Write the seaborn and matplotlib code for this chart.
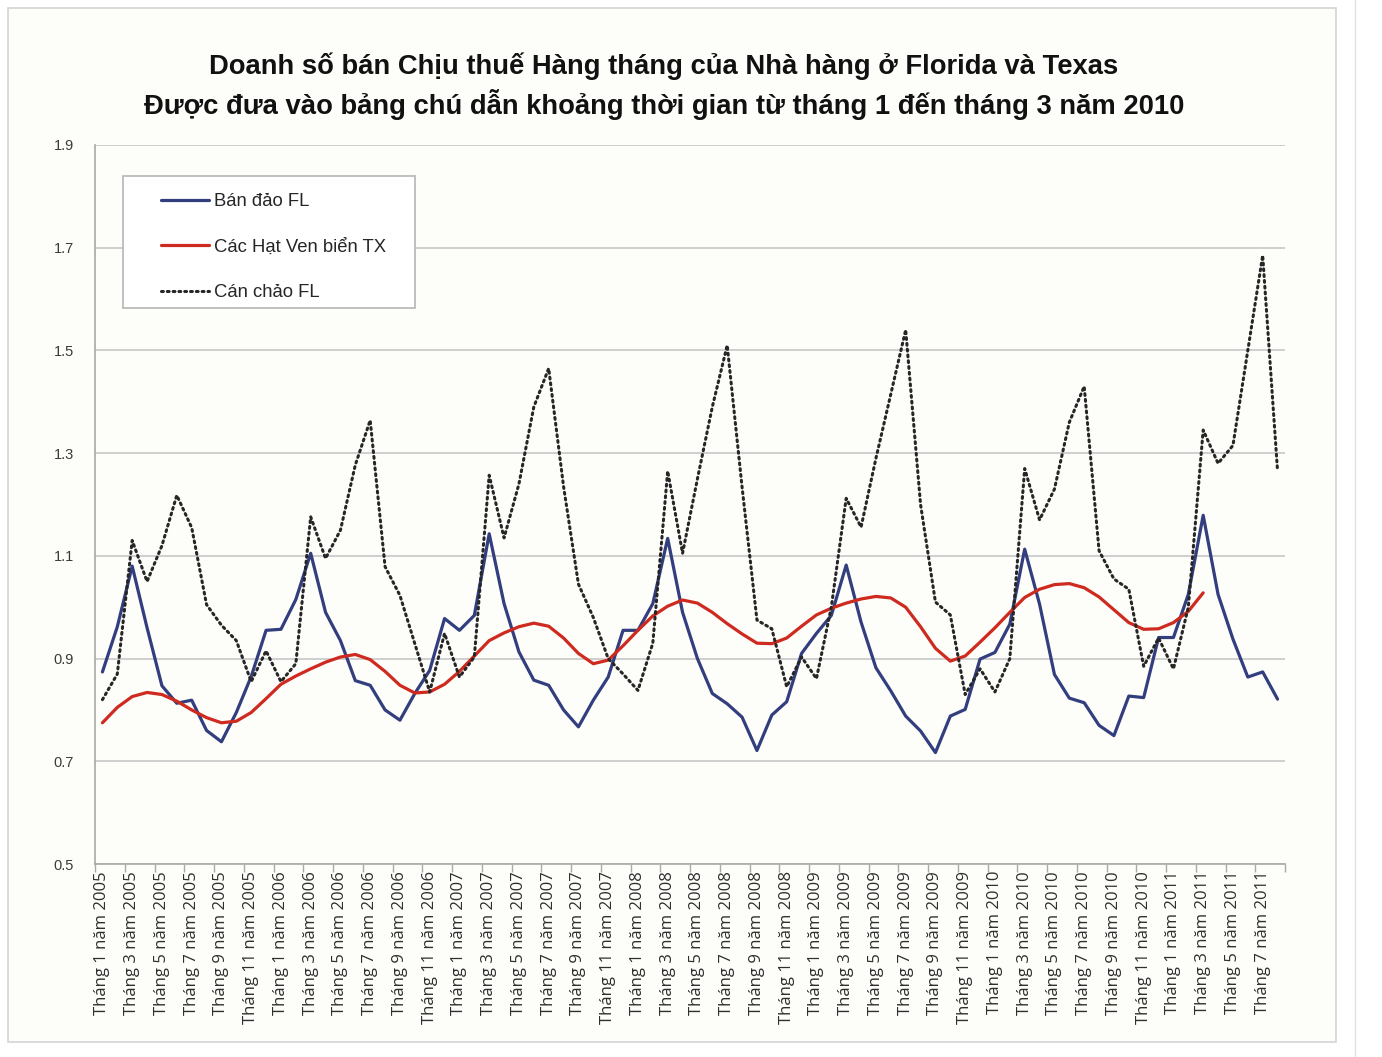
import numpy as np
import pandas as pd
import seaborn as sns
import matplotlib.pyplot as plt
from matplotlib.patches import Rectangle
from matplotlib.lines import Line2D

# month categories, Jan 2005 .. Aug 2011
months = [f"Tháng {m} năm {y}" for y in range(2005, 2012) for m in range(1, 13)][:80]

ban_dao_fl = [0.874, 0.962, 1.08, 0.96, 0.847, 0.813, 0.819, 0.76, 0.738, 0.795,
              0.865, 0.955, 0.957, 1.015, 1.105, 0.99, 0.935, 0.857, 0.848, 0.80,
              0.78, 0.832, 0.877, 0.978, 0.955, 0.984, 1.143, 1.007, 0.913, 0.858,
              0.848, 0.80, 0.767, 0.819, 0.864, 0.955, 0.955, 1.007, 1.134, 0.99,
              0.90, 0.832, 0.812, 0.786, 0.721, 0.79, 0.816, 0.91, 0.949, 0.984,
              1.082, 0.971, 0.882, 0.837, 0.788, 0.759, 0.717, 0.788, 0.801, 0.899,
              0.912, 0.967, 1.113, 1.006, 0.869, 0.823, 0.814, 0.77, 0.75, 0.827,
              0.824, 0.941, 0.941, 1.025, 1.179, 1.025, 0.938, 0.864, 0.874, 0.821]

ven_bien_tx = [0.775, 0.805, 0.826, 0.834, 0.83, 0.817, 0.80, 0.785, 0.775, 0.778,
               0.795, 0.822, 0.85, 0.866, 0.88, 0.893, 0.903, 0.908, 0.898, 0.875,
               0.848, 0.833, 0.835, 0.85, 0.875, 0.905, 0.935, 0.95, 0.962, 0.969,
               0.963, 0.94, 0.91, 0.89, 0.897, 0.925, 0.955, 0.983, 1.002, 1.014,
               1.008, 0.99, 0.968, 0.948, 0.93, 0.929, 0.94, 0.963, 0.985, 0.998,
               1.008, 1.016, 1.021, 1.018, 1.0, 0.962, 0.92, 0.895, 0.905, 0.932,
               0.96, 0.99, 1.019, 1.035, 1.044, 1.046, 1.038, 1.02, 0.995, 0.97,
               0.957, 0.958, 0.97, 0.992, 1.028]

can_chao_fl = [0.82, 0.87, 1.13, 1.05, 1.12, 1.218, 1.155, 1.005, 0.965, 0.935,
               0.855, 0.915, 0.855, 0.89, 1.176, 1.095, 1.15, 1.277, 1.364, 1.079,
               1.023, 0.929, 0.835, 0.949, 0.864, 0.903, 1.257, 1.135, 1.24, 1.39,
               1.465, 1.235, 1.045, 0.98, 0.90, 0.87, 0.838, 0.93, 1.265, 1.105,
               1.25, 1.39, 1.51, 1.234, 0.975, 0.958, 0.845, 0.903, 0.861, 1.0,
               1.212, 1.156, 1.29, 1.415, 1.54, 1.2, 1.01, 0.985, 0.83, 0.88,
               0.835, 0.9, 1.27, 1.17, 1.23, 1.36, 1.43, 1.11, 1.055, 1.035,
               0.885, 0.94, 0.88, 1.0, 1.345, 1.28, 1.315, 1.5, 1.685, 1.265]

y_ticks = [0.5, 0.7, 0.9, 1.1, 1.3, 1.5, 1.7, 1.9]

title = ("Doanh số bán Chịu thuế Hàng tháng của Nhà hàng ở Florida và Texas\n"
         "Được đưa vào bảng chú dẫn khoảng thời gian từ tháng 1 đến tháng 3 năm 2010")

BLUE = '#323e7e'
RED = '#cf2a1f'
DOT = '#262626'

sns.set_theme(style='white')
plt.rcParams['font.family'] = ['Liberation Sans', 'DejaVu Sans']

W, H = 1382, 1057
fig = plt.figure(figsize=(W / 100, H / 100), dpi=100)
fig.patch.set_facecolor('white')

# outer frame of the chart area
fig.patches.append(Rectangle((8 / W, 1 - 1042 / H), 1328 / W, 1034 / H,
                             transform=fig.transFigure, facecolor='#fdfdfa',
                             edgecolor='#d4d4d4', lw=1.2, zorder=-2))
fig.lines.append(Line2D([1355 / W, 1355 / W], [0, 1], transform=fig.transFigure,
                        color='#e2e2e2', lw=1, zorder=-2))

ax = fig.add_axes([95 / W, 1 - 864 / H, 1190 / W, 719 / H])
ax.set_zorder(1)
ax.set_facecolor('#fdfdfa')

x = np.arange(len(months))
sns.lineplot(x=x, y=ban_dao_fl, color=BLUE, lw=2.3, label='Bán đảo FL', ax=ax)
sns.lineplot(x=x[:len(ven_bien_tx)], y=ven_bien_tx, color=RED, lw=2.3,
             label='Các Hạt Ven biển TX', ax=ax)
sns.lineplot(x=x, y=can_chao_fl, color=DOT, lw=2.2, linestyle=(0, (0.6, 1.3)),
             dash_capstyle='round', label='Cán chảo FL', ax=ax)

ax.set_xlim(-0.5, len(months) - 0.5)
ax.set_ylim(0.5, 1.9)
ax.set_yticks(y_ticks)
ax.set_yticklabels([f"{v:.1f}" for v in y_ticks], fontsize=10.5, color='#3a3a3a')
ax.tick_params(axis='y', length=0, pad=15)

ax.set_xticks(x[::2])
ax.set_xticklabels(months[::2], rotation=90, fontsize=12, color='#2e2e2e',
                   family=['Open Sans', 'DejaVu Sans'])
ax.tick_params(axis='x', which='major', length=0, pad=5)
ax.set_xticks(np.arange(-0.5, len(months), 2), minor=True)
ax.tick_params(axis='x', which='minor', bottom=True, length=6, width=1,
               color='#a8a8a8', direction='out')

ax.yaxis.grid(True, color='#c8c8c8', lw=1.2)
ax.set_axisbelow(True)
for s in ['top', 'right']:
    ax.spines[s].set_visible(False)
for s in ['left', 'bottom']:
    ax.spines[s].set_color('#a8a8a8')
    ax.spines[s].set_linewidth(1.2)

# legend box
ax.add_patch(Rectangle((123 / W, 1 - 308 / H), 292 / W, 132 / H,
                       transform=fig.transFigure, facecolor='white',
                       edgecolor='#b5b5b5', lw=1.2, zorder=1.5))
leg = ax.legend(loc='upper left', bbox_to_anchor=(152 / W, 1 - 184 / H),
                bbox_transform=fig.transFigure, frameon=False, borderpad=0,
                fontsize=13.3, handlelength=2.6, handletextpad=0.27,
                labelspacing=1.54)
leg.set_zorder(5)

fig.text(664 / W, 1 - 86 / H, title, ha='center', va='center', fontsize=19.7,
         fontweight='bold', color='#111111', linespacing=1.35)

fig.savefig('out.png', dpi=100, facecolor=fig.get_facecolor())
